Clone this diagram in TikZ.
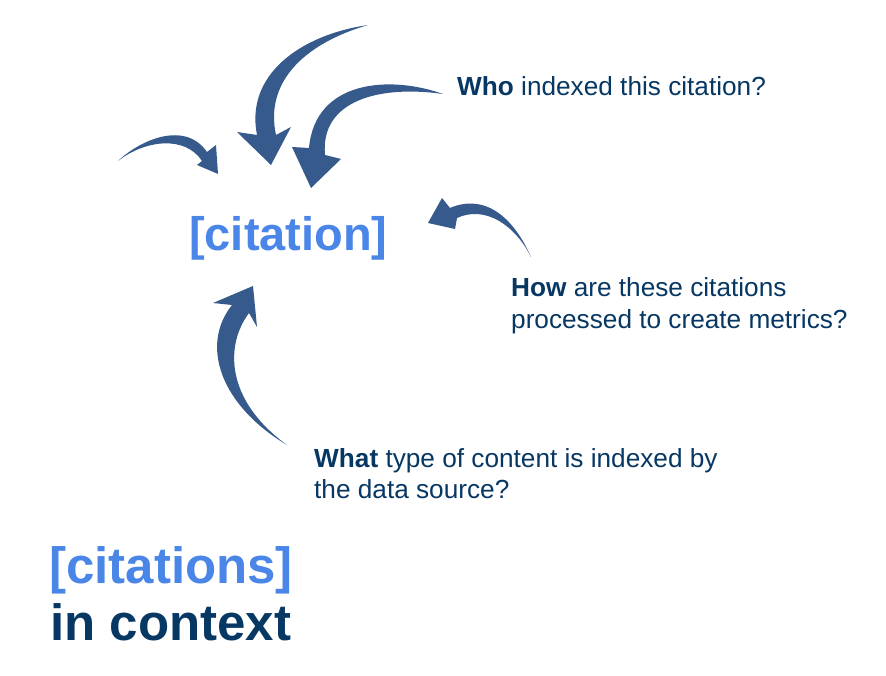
\documentclass[tikz,border=0pt]{standalone}
\usepackage{fontspec}
\setmainfont{Liberation Sans}
\definecolor{lightblue}{HTML}{4A86E8}
\definecolor{navy}{HTML}{073763}
\definecolor{arrowblue}{HTML}{375A8C}
\tikzset{
  curvedarrow/.style={fill=arrowblue, draw=none},
  question/.style={anchor=base west, inner sep=0pt, text=navy, font=\fontsize{26.2}{31}\selectfont},
  bigtitle/.style={anchor=base west, inner sep=0pt, font=\fontsize{51}{60}\selectfont\bfseries},
}
\begin{document}
\begin{tikzpicture}[x=1pt,y=-1pt]
\useasboundingbox[fill=white] (0,0) rectangle (886,676);

% arrow 1 (small, left)
\fill[curvedarrow] (118,161) .. controls (140,140) and (185,120) .. (207,152)
  -- (216,145) -- (218,174) -- (197,165) -- (202,161)
  .. controls (185,135) and (145,140) .. (118,161) -- cycle;
% arrow 2 (large, middle)
\fill[curvedarrow] (368,25) .. controls (300,35) and (245,75) .. (257,135)
  -- (237,132) -- (271,165) -- (291,127) -- (276,135)
  .. controls (265,85) and (300,45) .. (368,25) -- cycle;
% arrow 3 (from "Who")
\fill[curvedarrow] (443,94) .. controls (390,75) and (315,80) .. (309,148)
  -- (292,147) -- (311,188) -- (341,159) -- (325,155)
  .. controls (320,100) and (380,85) .. (443,94) -- cycle;
% arrow 4 (from "How")
\fill[curvedarrow] (531,257) .. controls (510,210) and (480,195) .. (450,208)
  -- (442,198) -- (428,223) -- (455,229) -- (457,218)
  .. controls (485,205) and (515,225) .. (531,257) -- cycle;
% arrow 5 (from "What")
\fill[curvedarrow] (287,445) .. controls (220,405) and (200,345) .. (232,305)
  -- (213,303) -- (253,286) -- (257,327) -- (249,313)
  .. controls (225,345) and (225,400) .. (287,445) -- cycle;

\node[anchor=base west, inner sep=0pt, text=lightblue, font=\fontsize{47}{55}\selectfont\bfseries] (citation) at (189,251) {[citation]};

\node[question] (who) at (457,96) {\textbf{Who} indexed this citation?};
\node[question] (how1) at (511,297) {\textbf{How} are these citations};
\node[question] (how2) at (511,328) {processed to create metrics?};
\node[question] (what1) at (314,467) {\textbf{What} type of content is indexed by};
\node[question] (what2) at (314,498) {the data source?};

\node[bigtitle, text=lightblue] (title1) at (49,583) {[citations]};
\node[bigtitle, text=navy] (title2) at (50,640) {in context};
\end{tikzpicture}
\end{document}
